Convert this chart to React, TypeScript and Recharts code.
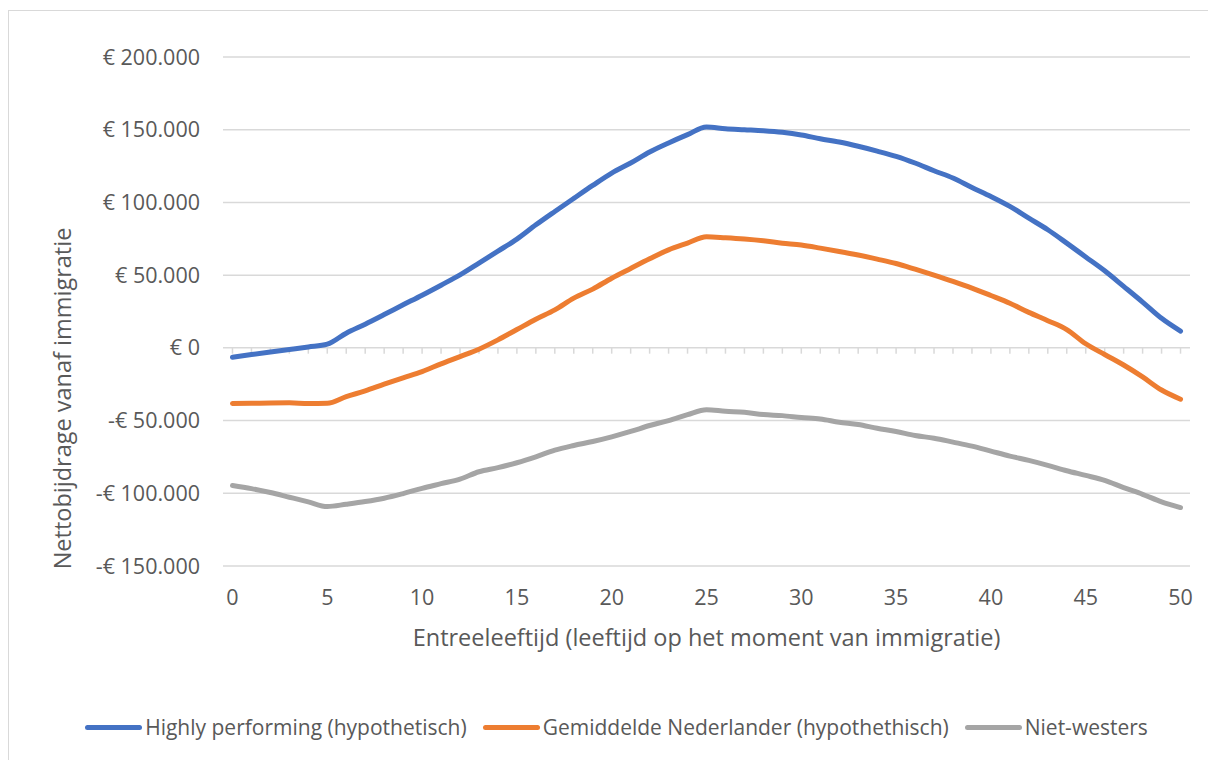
import React from 'react';
import { LineChart, Line, XAxis, YAxis, CartesianGrid, ReferenceLine, Legend, Label } from 'recharts';

const ages = [
  0, 1, 2, 3, 4, 5, 6, 7, 8, 9, 10, 11, 12, 13, 14, 15, 16, 17, 18, 19, 20, 21, 22, 23, 24, 25,
  26, 27, 28, 29, 30, 31, 32, 33, 34, 35, 36, 37, 38, 39, 40, 41, 42, 43, 44, 45, 46, 47, 48, 49, 50,
];

const highlyPerforming = [
  -6500, -4600, -2800, -1100, 600, 2500, 10100, 16300, 22900, 29600, 36200, 43100, 50200, 58300, 66500,
  74800, 84600, 93800, 102800, 111700, 120200, 127100, 134700, 140900, 146600, 151900, 150700, 150000,
  149300, 148200, 146400, 143800, 141500, 138600, 135300, 131700, 127100, 121800, 116800, 110300, 104100,
  97300, 89200, 81200, 72000, 62500, 53000, 42300, 31500, 20300, 11500,
];

const gemiddeldeNederlander = [
  -38300, -38100, -37900, -37800, -38300, -38100, -33500, -29600, -25000, -20600, -16300, -11000, -6000,
  -900, 5500, 12600, 19700, 26100, 34200, 40400, 47900, 54600, 61200, 67400, 72000, 76400, 75700, 74800,
  73600, 72000, 70700, 68600, 66300, 63800, 61000, 58000, 54100, 50000, 45700, 41100, 36000, 30700, 24400,
  18700, 12600, 2800, -4600, -11800, -20000, -29000, -35300,
];

const nietWesters = [
  -94700, -96800, -99500, -102700, -105900, -109100, -107500, -105700, -103400, -100200, -96600, -93400,
  -90200, -85200, -82400, -79000, -74900, -70300, -67100, -64400, -61200, -57500, -53400, -50000, -45900,
  -42500, -43600, -44300, -45900, -46600, -47900, -48900, -51100, -52700, -55300, -57500, -60300, -62100,
  -64800, -67600, -71000, -74400, -77400, -80800, -84500, -87700, -91100, -96100, -100700, -105900, -109800,
];

const yTicks = [-150000, -100000, -50000, 0, 50000, 100000, 150000, 200000];
const xTicks = [0, 5, 10, 15, 20, 25, 30, 35, 40, 45, 50];

const seriesInfo = [
  { key: 'high', name: 'Highly performing (hypothetisch)', color: '#4472C4' },
  { key: 'avg', name: 'Gemiddelde Nederlander (hypothethisch)', color: '#ED7D31' },
  { key: 'nw', name: 'Niet-westers', color: '#A5A5A5' },
];

const data = ages.map((age, i) => ({
  age,
  high: highlyPerforming[i],
  avg: gemiddeldeNederlander[i],
  nw: nietWesters[i],
}));

const FONT = '"Open Sans", sans-serif';
const TEXT = '#595959';
const GRID = '#d9d9d9';

const euro = (v: number) => {
  const s = Math.abs(v).toString().replace(/\B(?=(\d{3})+(?!\d))/g, '.');
  return v < 0 ? `-€ ${s}` : `€ ${s}`;
};

const LegendContent = () => (
  <div
    style={{
      height: 115,
      boxSizing: 'border-box',
      paddingTop: 66,
      paddingLeft: 50,
      display: 'flex',
      justifyContent: 'center',
      fontFamily: FONT,
      fontSize: 21,
      color: TEXT,
    }}
  >
    {seriesInfo.map((s) => (
      <div key={s.key} style={{ display: 'flex', alignItems: 'center', height: 30, marginRight: 16 }}>
        <span style={{ display: 'inline-block', width: 57, height: 5, borderRadius: 3, background: s.color, marginRight: 3 }} />
        <span>{s.name}</span>
      </div>
    ))}
  </div>
);

const YTitle = (props: any) => {
  const { viewBox } = props;
  const cx = viewBox.x + 53;
  const cy = viewBox.y + viewBox.height / 2 + 87;
  return (
    <text
      x={cx}
      y={cy}
      transform={`rotate(-90, ${cx}, ${cy})`}
      textAnchor="middle"
      dominantBaseline="central"
      fill={TEXT}
      fontFamily={FONT}
      fontSize={23.5}
    >
      Nettobijdrage vanaf immigratie
    </text>
  );
};

export default function App() {
  return (
    <div style={{ position: 'fixed', inset: 0, overflow: 'hidden', background: '#fff' }}>
      <div
        style={{
          position: 'absolute',
          left: 8,
          top: 10,
          width: 1210,
          height: 760,
          borderTop: `1px solid ${GRID}`,
          borderLeft: `1px solid ${GRID}`,
          background: '#fff',
        }}
      >
        <LineChart width={1200} height={750} data={data} margin={{ top: 46, right: 19, bottom: 0, left: 0 }}>
          <CartesianGrid vertical={false} stroke={GRID} strokeWidth={1.5} />
          <XAxis
            dataKey="age"
            type="number"
            domain={[-0.5, 50.5]}
            ticks={xTicks}
            allowDataOverflow
            axisLine={false}
            tickLine={false}
            tickMargin={18}
            height={80}
            tick={{ fill: TEXT, fontFamily: FONT, fontSize: 21.5 }}
          >
            <Label
              value="Entreeleeftijd (leeftijd op het moment van immigratie)"
              position="insideBottom"
              offset={0}
              fill={TEXT}
              fontFamily={FONT}
              fontSize={23.5}
            />
          </XAxis>
          <YAxis
            type="number"
            domain={[-150000, 200000]}
            ticks={yTicks}
            width={214}
            axisLine={false}
            tickLine={false}
            tickMargin={17}
            tickFormatter={euro}
            tick={{ fill: TEXT, fontFamily: FONT, fontSize: 21.5 }}
          >
            <Label content={<YTitle />} />
          </YAxis>
          {ages.map((a) => (
            <ReferenceLine
              key={`t${a}`}
              segment={[{ x: a, y: 0 }, { x: a, y: -4000 }]}
              stroke={GRID}
              strokeWidth={1.5}
            />
          ))}
          {seriesInfo.map((s) => (
            <Line
              key={s.key}
              type="monotone"
              dataKey={s.key}
              name={s.name}
              stroke={s.color}
              strokeWidth={5}
              strokeLinecap="round"
              strokeLinejoin="round"
              dot={false}
              activeDot={false}
              isAnimationActive={false}
            />
          ))}
          <Legend verticalAlign="bottom" content={<LegendContent />} />
        </LineChart>
      </div>
    </div>
  );
}
